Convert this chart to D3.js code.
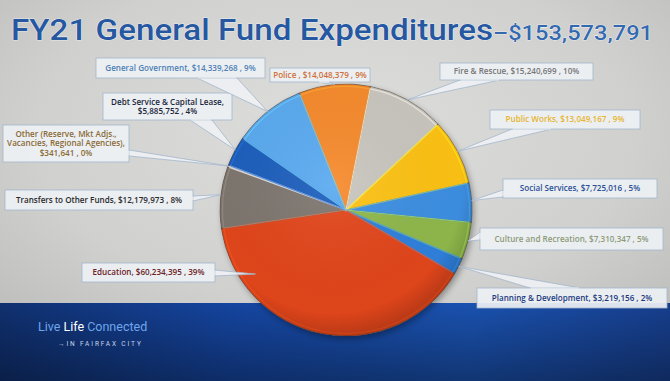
<!DOCTYPE html>
<html lang="en">
<head>
<meta charset="UTF-8">
<title>FY21 General Fund Expenditures</title>
<script src="https://d3js.org/d3.v7.min.js"></script>
<style>
    html, body { margin: 0; padding: 0; background: #cfcfcd; }
    svg { display: block; }
</style>
</head>
<body>
<svg id="chart" width="670" height="381"></svg>
<script>
// data, in pie order (clockwise from the top)
const categories = ['Police', 'Fire  & Rescue', 'Public Works', 'Social Services', 'Culture and Recreation',
    'Planning & Development', 'Education', 'Transfers to Other Funds',
    'Other (Reserve, Mkt Adjs., Vacancies, Regional Agencies)', 'Debt Service & Capital Lease', 'General Government'];
const amounts = [14048379, 15240699, 13049167, 7725016, 7310347, 3219156, 60234395, 12179973, 341641, 5885752, 14339268];
const percents = ['9%', '10%', '9%', '5%', '5%', '2%', '39%', '8%', '0%', '4%', '9%'];
const sliceColors = ['#f68a2c', '#c9c6bf', '#fdc214', '#3d8fe2', '#8fb84b', '#2f80dc', '#e2461b', '#7e766f', '#e9e9e6', '#1d5fbd', '#5aaaf0'];
const labelColors = ['#cf6f3a', '#767676', '#e6b52e', '#2b4f96', '#8d9a78', '#1c3a80', '#6b2327', '#2a2a2a', '#8a6a36', '#20283c', '#4f7fb5'];
const totalText = '$153,573,791';

// label box layout: x, y, w, h, side of pointer, pointer base, where the pointer hits the slice
const labelBoxes = [
    {x: 270, y: 68, w: 100, h: 14, side: 'bottom', b0: 318, b1: 330, f: 0.5, rf: 1.0},
    {x: 440, y: 63, w: 153, h: 17, side: 'bottom', b0: 460, b1: 500, f: 0.5, rf: 1.0},
    {x: 490, y: 110, w: 150, h: 19, side: 'bottom', b0: 512, b1: 552, f: 0.5, rf: 1.0},
    {x: 503, y: 179, w: 154, h: 19, side: 'left', b0: 190, b1: 197, f: 0.45, rf: 1.0},
    {x: 480, y: 228, w: 183, h: 22, side: 'left', b0: 232, b1: 240, f: 0.5, rf: 1.0},
    {x: 477, y: 288, w: 190, h: 20, side: 'top', b0: 530, b1: 580, f: 0.5, rf: 1.0},
    {x: 82, y: 263, w: 133, h: 19, side: 'right', b0: 270, b1: 276, f: 0.81, rf: 0.88},
    {x: 5, y: 190, w: 188, h: 20, side: 'right', b0: 196, b1: 201, f: 0.54, rf: 1.0},
    {x: 3, y: 125, w: 126, h: 37, side: 'right', b0: 150, b1: 156, f: 0.5, rf: 1.0},
    {x: 103, y: 93, w: 129, h: 27, side: 'bottom', b0: 190, b1: 212, f: 0.55, rf: 1.0},
    {x: 96, y: 58, w: 169, h: 20, side: 'bottom', b0: 197, b1: 237, f: 0.5, rf: 1.0}
];
const labelLines = [
    ['Police ,  $14,048,379 , 9%'],
    ['Fire  & Rescue,  $15,240,699 , 10%'],
    ['Public Works,  $13,049,167 , 9%'],
    ['Social Services,  $7,725,016 , 5%'],
    ['Culture and Recreation,  $7,310,347 , 5%'],
    ['Planning & Development,  $3,219,156 , 2%'],
    ['Education,  $60,234,395 , 39%'],
    ['Transfers to Other Funds,  $12,179,973 , 8%'],
    ['Other (Reserve, Mkt Adjs.,', 'Vacancies, Regional Agencies),', '$341,641 , 0%'],
    ['Debt Service & Capital Lease,', '$5,885,752 , 4%'],
    ['General Government,  $14,339,268 , 9%']
];

const W = 670, H = 381;
const cx = 346, cy = 210, R = 126;
const svg = d3.select('#chart');
const defs = svg.append('defs');

// background
const bg = defs.append('radialGradient').attr('id', 'bg').attr('cx', '50%').attr('cy', '35%').attr('r', '75%');
bg.append('stop').attr('offset', '0%').attr('stop-color', '#dededc');
bg.append('stop').attr('offset', '60%').attr('stop-color', '#d0d0ce');
bg.append('stop').attr('offset', '100%').attr('stop-color', '#b9b9b7');
svg.append('rect').attr('width', W).attr('height', H).attr('fill', 'url(#bg)');

const band = defs.append('linearGradient').attr('id', 'band').attr('x1', 0).attr('x2', 1).attr('y1', 0).attr('y2', 0);
band.append('stop').attr('offset', '0%').attr('stop-color', '#10306f');
band.append('stop').attr('offset', '35%').attr('stop-color', '#1545a0');
band.append('stop').attr('offset', '70%').attr('stop-color', '#1a52b0');
band.append('stop').attr('offset', '100%').attr('stop-color', '#173f8e');
svg.append('rect').attr('x', 0).attr('y', 303).attr('width', W).attr('height', H - 303).attr('fill', 'url(#band)');
const bandShade = defs.append('linearGradient').attr('id', 'bandShade').attr('x1', 0).attr('x2', 0).attr('y1', 0).attr('y2', 1);
bandShade.append('stop').attr('offset', '0%').attr('stop-color', '#000').attr('stop-opacity', 0);
bandShade.append('stop').attr('offset', '100%').attr('stop-color', '#000').attr('stop-opacity', 0.35);
svg.append('rect').attr('x', 0).attr('y', 303).attr('width', W).attr('height', H - 303).attr('fill', 'url(#bandShade)');

// title
const title = svg.append('text').attr('x', 11).attr('y', 40)
    .attr('font-family', 'Roboto, "Open Sans", sans-serif').attr('font-weight', 500)
    .attr('fill', '#2658a2').attr('stroke', '#ffffff').attr('stroke-width', 0.7).attr('paint-order', 'stroke');
title.append('tspan').attr('font-size', 30).text('FY21 General Fund Expenditures')
    .attr('textLength', 482).attr('lengthAdjust', 'spacingAndGlyphs');
title.append('tspan').attr('font-size', 20).attr('fill', '#3469b0').text('\u2013' + totalText)
    .attr('textLength', 160).attr('lengthAdjust', 'spacingAndGlyphs');

// footer text
const tag = svg.append('text').attr('x', 38).attr('y', 331)
    .attr('font-family', 'Roboto, sans-serif').attr('font-size', 12.5);
tag.append('tspan').attr('fill', '#6fa6ec').text('Live ');
tag.append('tspan').attr('fill', '#ffffff').text('Life ');
tag.append('tspan').attr('fill', '#6fa6ec').text('Connected');
svg.append('text').attr('x', 58).attr('y', 346)
    .attr('font-family', 'Roboto, sans-serif').attr('font-size', 6.5).attr('letter-spacing', 1.9)
    .attr('fill', '#c8d4ea').text('\u2192IN FAIRFAX CITY');

// pie
const startA = -21.7 * Math.PI / 180;
const pie = d3.pie().sort(null).value(d => d).startAngle(startA).endAngle(startA + 2 * Math.PI);
const arcs = pie(amounts);
const arc = d3.arc().innerRadius(0).outerRadius(R);
const arcIn = d3.arc().innerRadius(0).outerRadius(R - 2.5);

const shadow = defs.append('filter').attr('id', 'shadow').attr('x', '-20%').attr('y', '-20%').attr('width', '140%').attr('height', '140%');
shadow.append('feDropShadow').attr('dx', 2).attr('dy', 3).attr('stdDeviation', 3).attr('flood-opacity', 0.35);

const shade = defs.append('radialGradient').attr('id', 'shade').attr('cx', '45%').attr('cy', '40%').attr('r', '60%');
shade.append('stop').attr('offset', '0%').attr('stop-color', '#fff').attr('stop-opacity', 0.08);
shade.append('stop').attr('offset', '85%').attr('stop-color', '#000').attr('stop-opacity', 0.02);
shade.append('stop').attr('offset', '100%').attr('stop-color', '#000').attr('stop-opacity', 0.18);

const g = svg.append('g').attr('transform', `translate(${cx},${cy})`);
g.append('circle').attr('r', R).attr('fill', '#777').attr('filter', 'url(#shadow)');
g.selectAll('path.slice').data(arcs).join('path').attr('class', 'slice')
    .attr('d', arc).attr('fill', (d, i) => sliceColors[i])
    .attr('stroke', '#4a3c30').attr('stroke-opacity', 0.55).attr('stroke-width', 0.8);
g.selectAll('path.bevel').data(arcs).join('path').attr('class', 'bevel')
    .attr('d', arcIn).attr('fill', 'none')
    .attr('stroke', (d, i) => d3.color(sliceColors[i]).brighter(0.6)).attr('stroke-width', 1.2).attr('stroke-opacity', 0.7);
g.append('circle').attr('r', R).attr('fill', 'url(#shade)');

// callouts
const boxFill = '#eef1f4', boxStroke = '#a3b6cc';
const lab = svg.append('g').attr('font-family', '"Open Sans", "DejaVu Sans", sans-serif').attr('font-weight', 600);
arcs.forEach((d, i) => {
    const b = labelBoxes[i];
    const a = d.startAngle + (d.endAngle - d.startAngle) * b.f;
    const tx = cx + Math.sin(a) * R * b.rf, ty = cy - Math.cos(a) * R * b.rf;
    let p0, p1;
    if (b.side === 'bottom') { p0 = [b.b0, b.y + b.h]; p1 = [b.b1, b.y + b.h]; }
    else if (b.side === 'top') { p0 = [b.b0, b.y]; p1 = [b.b1, b.y]; }
    else if (b.side === 'left') { p0 = [b.x, b.b0]; p1 = [b.x, b.b1]; }
    else { p0 = [b.x + b.w, b.b0]; p1 = [b.x + b.w, b.b1]; }
    const tri = `M${p0[0]},${p0[1]}L${tx},${ty}L${p1[0]},${p1[1]}Z`;
    lab.append('path').attr('d', tri).attr('fill', boxFill).attr('fill-opacity', 0.9)
        .attr('stroke', boxStroke).attr('stroke-width', 0.8);
    lab.append('rect').attr('x', b.x).attr('y', b.y).attr('width', b.w).attr('height', b.h)
        .attr('fill', boxFill).attr('fill-opacity', 0.92).attr('stroke', boxStroke).attr('stroke-width', 0.8);
    const inset = b.side === 'top' || b.side === 'bottom' ? [p0[0] + 0.8, p0[1], p1[0] - 0.8, p1[1]] : [p0[0], p0[1] + 0.8, p1[0], p1[1] - 0.8];
    lab.append('line').attr('x1', inset[0]).attr('y1', inset[1]).attr('x2', inset[2]).attr('y2', inset[3])
        .attr('stroke', boxFill).attr('stroke-width', 1.2);
    const lines = labelLines[i];
    const lh = 9.8;
    const y0 = b.y + b.h / 2 - (lines.length - 1) * lh / 2 + 2.9;
    lab.append('text').attr('x', b.x + b.w / 2).attr('text-anchor', 'middle')
        .attr('font-size', 8.1).attr('fill', labelColors[i])
        .selectAll('tspan').data(lines).join('tspan')
        .attr('x', b.x + b.w / 2).attr('y', (t, j) => y0 + j * lh).text(t => t);
});
</script>
</body>
</html>
